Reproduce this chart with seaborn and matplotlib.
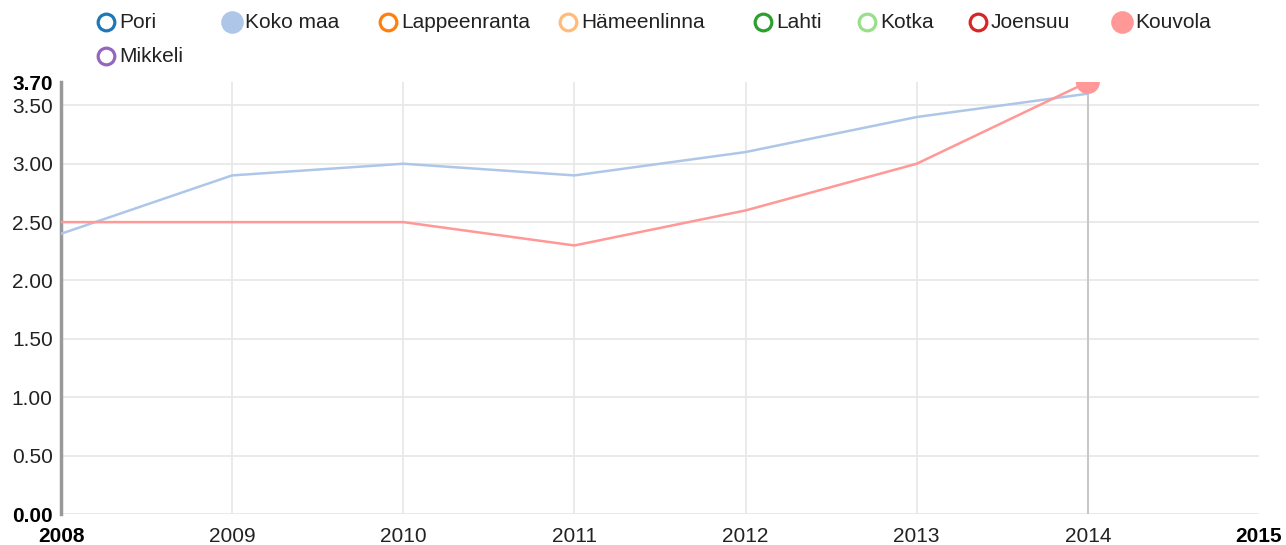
import matplotlib
matplotlib.use("Agg")
import matplotlib.pyplot as plt
import seaborn as sns
import pandas as pd
from matplotlib.lines import Line2D

# --- data -------------------------------------------------------------
years = [2008, 2009, 2010, 2011, 2012, 2013, 2014]
koko_maa = [2.4, 2.9, 3.0, 2.9, 3.1, 3.4, 3.6]
kouvola = [2.5, 2.5, 2.5, 2.3, 2.6, 3.0, 3.7]

legend_names = ["Pori", "Koko maa", "Lappeenranta", "Hämeenlinna", "Lahti",
                "Kotka", "Joensuu", "Kouvola", "Mikkeli"]
legend_colors = ["#1f77b4", "#aec7e8", "#ff7f0e", "#ffbb78", "#2ca02c",
                 "#98df8a", "#d62728", "#ff9896", "#9467bd"]
legend_active = [False, True, False, False, False, False, False, True, False]

y_ticks = [0.0, 0.5, 1.0, 1.5, 2.0, 2.5, 3.0, 3.5, 3.7]
x_ticks = [2008, 2009, 2010, 2011, 2012, 2013, 2014, 2015]
highlight_year = 2014

# --- figure -----------------------------------------------------------
sns.set_theme(style="white")
plt.rcParams["font.family"] = ["Liberation Sans", "DejaVu Sans"]

W, H = 1286, 545
FS = 15
fig = plt.figure(figsize=(W / 100, H / 100), dpi=100)
ax = fig.add_axes([61 / W, 1 - 514 / H, (1259 - 61) / W, (514 - 82) / H])

df = pd.DataFrame({
    "year": years * 2,
    "value": koko_maa + kouvola,
    "series": ["Koko maa"] * len(years) + ["Kouvola"] * len(years),
})
palette = {"Koko maa": "#aec7e8", "Kouvola": "#ff9896"}

# grid
for yv in y_ticks[:-1]:
    ax.axhline(yv, color="#e8e8e8", lw=1.3, zorder=0)
for xv in x_ticks[1:-1]:
    ax.axvline(xv, color="#e8e8e8", lw=1.3, zorder=0)
ax.axvline(highlight_year, color="#c8c8c8", lw=1.5, zorder=1)

sns.lineplot(data=df, x="year", y="value", hue="series", palette=palette,
             linewidth=1.8, legend=False, ax=ax, zorder=3)

hl = df[(df["series"] == "Kouvola") & (df["year"] == highlight_year)]
sns.scatterplot(data=hl, x="year", y="value", color="#ff9896", s=300,
                edgecolor="none", legend=False, ax=ax, zorder=4)

ax.set_xlim(2008, 2015)
ax.set_ylim(0, 3.7)
ax.set_xlabel("")
ax.set_ylabel("")

ax.set_yticks(y_ticks)
ax.set_yticklabels([f"{v:.2f}" for v in y_ticks])
ax.set_xticks(x_ticks)
ax.set_xticklabels([str(v) for v in x_ticks])
ax.tick_params(axis="both", length=0, labelsize=FS, colors="#222222")
ax.tick_params(axis="y", pad=6)
ax.tick_params(axis="x", pad=9)
for lab in (ax.get_yticklabels()[0], ax.get_yticklabels()[-1],
            ax.get_xticklabels()[0], ax.get_xticklabels()[-1]):
    lab.set_fontweight("bold")
    lab.set_color("#000000")

for side in ("top", "right", "bottom"):
    ax.spines[side].set_visible(False)
ax.spines["left"].set_color("#999999")
ax.spines["left"].set_linewidth(2.5)

# legend row(s)
legend_pos = [(106, 22), (232, 22), (388, 22), (568, 22), (763, 22),
              (867, 22), (978, 22), (1122, 22), (106, 56)]
for (px, py), name, col, active in zip(legend_pos, legend_names,
                                       legend_colors, legend_active):
    fx, fy = px / W, 1 - py / H
    fig.add_artist(Line2D([fx], [fy], transform=fig.transFigure,
                          marker="o", markersize=14 if active else 12,
                          markerfacecolor=col if active else "white",
                          markeredgecolor=col, markeredgewidth=2.3,
                          linestyle="none"))
    fig.text(fx + 13 / W, fy, name, ha="left", va="center",
             fontsize=FS, color="#222222")

fig.savefig("out.png", dpi=100)
